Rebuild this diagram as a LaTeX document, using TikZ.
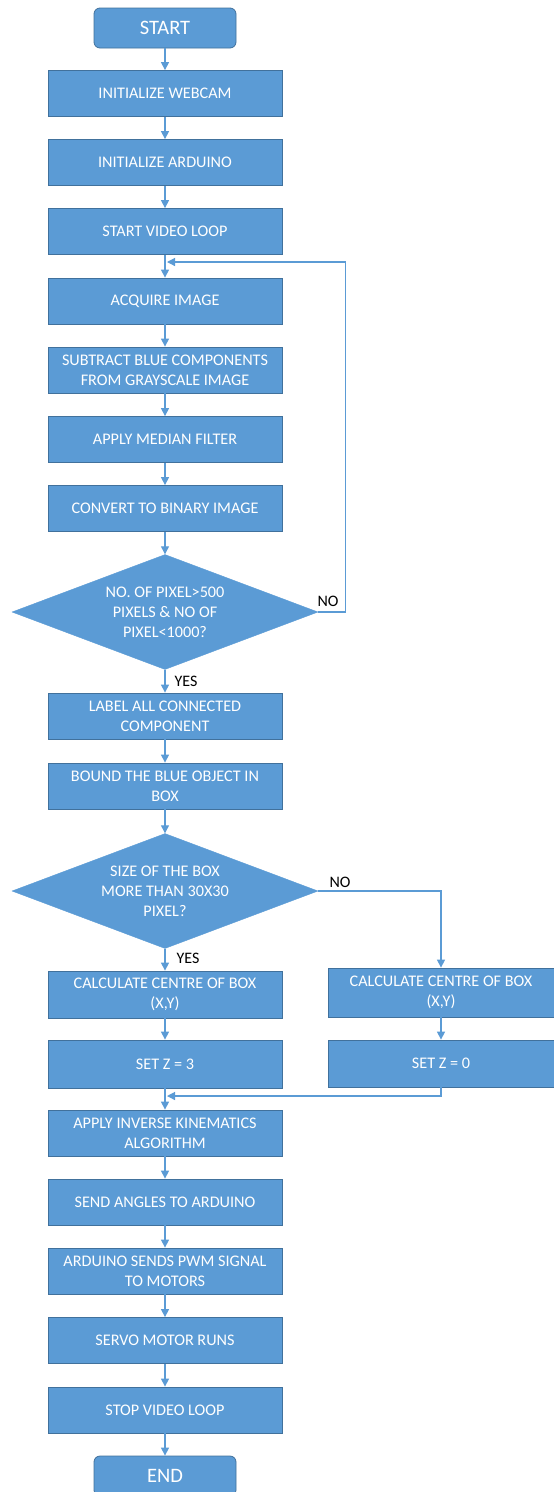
\documentclass[tikz,border=0pt]{standalone}
\usepackage{fontspec}
\setmainfont{Carlito}
\usetikzlibrary{shapes.geometric,arrows.meta}
\definecolor{boxblue}{HTML}{5B9BD5}
\definecolor{boxedge}{HTML}{41719C}
\tikzset{
    stepbox/.style={rectangle, fill=boxblue, draw=boxedge, line width=0.8pt, text=white, align=center,
            minimum width=234pt, minimum height=46pt, inner sep=0pt, font=\fontsize{16.2}{20}\selectfont},
    termbox/.style={stepbox, rounded corners=6pt, minimum width=142pt, minimum height=40pt, font=\fontsize{20.5}{24}\selectfont},
    testbox/.style={diamond, aspect=2.66, fill=boxblue, draw=boxblue, text=white, align=center,
            minimum width=306pt, minimum height=115pt, inner sep=0pt, font=\fontsize{16.2}{20}\selectfont},
    flow/.style={draw=boxblue, line width=1.2pt, -{Triangle[length=8pt,width=8pt]}},
    answer/.style={text=black, inner sep=0pt, font=\fontsize{16}{18}\selectfont}
}
\begin{document}
\begin{tikzpicture}[x=1pt,y=-1pt]
            \useasboundingbox (0,0) rectangle (554,1492);
            \node[termbox] (start) at (165,28) {START};
            \node[stepbox] (webcam) at (165,93.5) {INITIALIZE WEBCAM};
            \node[stepbox] (ardinit) at (165,162.5) {INITIALIZE ARDUINO};
            \node[stepbox] (vidloop) at (165,231.5) {START VIDEO LOOP};
            \node[stepbox] (acquire) at (165,301) {ACQUIRE IMAGE};
            \node[stepbox] (subtract) at (165,370) {SUBTRACT BLUE COMPONENTS\\FROM GRAYSCALE IMAGE};
            \node[stepbox] (median) at (165,439.5) {APPLY MEDIAN FILTER};
            \node[stepbox] (binary) at (165,508.5) {CONVERT TO BINARY IMAGE};
            \node[testbox] (pixchk) at (165,612) {NO. OF PIXEL>500\\PIXELS \& NO OF\\PIXEL<1000?};
            \node[stepbox] (labelcc) at (165,716) {LABEL ALL CONNECTED\\COMPONENT};
            \node[stepbox] (bound) at (165,786) {BOUND THE BLUE OBJECT IN\\BOX};
            \node[testbox] (sizechk) at (165,891) {SIZE OF THE BOX\\MORE THAN 30X30\\PIXEL?};
            \node[stepbox, minimum height=47pt] (centrea) at (165,994.5) {CALCULATE CENTRE OF BOX\\(X,Y)};
            \node[stepbox, minimum height=48pt] (setza) at (165,1064) {SET Z = 3};
            \node[stepbox, minimum width=226pt, minimum height=49pt] (centreb) at (441,992.5) {CALCULATE CENTRE OF BOX\\(X,Y)};
            \node[stepbox, minimum width=226pt, minimum height=47pt] (setzb) at (441,1063.5) {SET Z = 0};
            \node[stepbox] (kinem) at (165,1133) {APPLY INVERSE KINEMATICS\\ALGORITHM};
            \node[stepbox] (angles) at (165,1202) {SEND ANGLES TO ARDUINO};
            \node[stepbox] (pwm) at (165,1271) {ARDUINO SENDS PWM SIGNAL\\TO MOTORS};
            \node[stepbox] (servo) at (165,1340.5) {SERVO MOTOR RUNS};
            \node[stepbox] (stopvid) at (165,1410) {STOP VIDEO LOOP};
            \node[termbox] (finish) at (165,1476) {END};
            \node[answer] (noa) at (328,601) {NO};
            \node[answer] (yesa) at (186,681) {YES};
            \node[answer] (nob) at (340,882) {NO};
            \node[answer] (yesb) at (188,958) {YES};
            \coordinate (loopin) at (167,262);
            \coordinate (mergein) at (167,1096);
            \draw[flow] (start) -- (webcam);
            \draw[flow] (webcam) -- (ardinit);
            \draw[flow] (ardinit) -- (vidloop);
            \draw[flow] (vidloop) -- (acquire);
            \draw[flow] (acquire) -- (subtract);
            \draw[flow] (subtract) -- (median);
            \draw[flow] (median) -- (binary);
            \draw[flow] (binary) -- (pixchk);
            \draw[flow] (pixchk.east) -- ++(27,0) |- (loopin);
            \draw[flow] (pixchk) -- (labelcc);
            \draw[flow] (labelcc) -- (bound);
            \draw[flow] (bound) -- (sizechk);
            \draw[flow] (sizechk) -- (centrea);
            \draw[flow] (sizechk.east) -| (centreb);
            \draw[flow] (centrea) -- (setza);
            \draw[flow] (centreb) -- (setzb);
            \draw[flow] (setza) -- (kinem);
            \draw[flow] (setzb.south) |- (mergein);
            \draw[flow] (kinem) -- (angles);
            \draw[flow] (angles) -- (pwm);
            \draw[flow] (pwm) -- (servo);
            \draw[flow] (servo) -- (stopvid);
            \draw[flow] (stopvid) -- (finish);
        \end{tikzpicture}
\end{document}
